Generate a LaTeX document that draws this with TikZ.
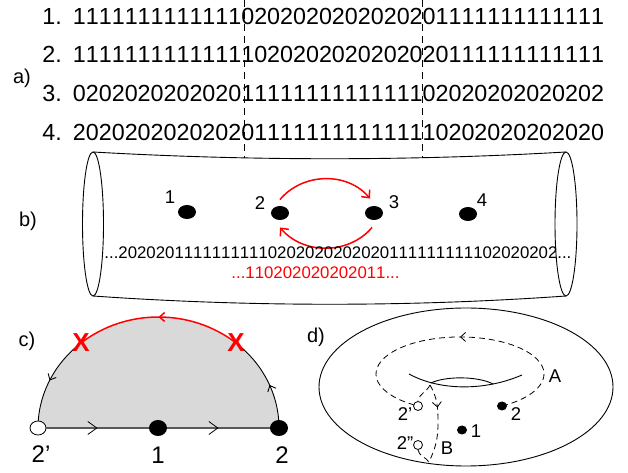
\documentclass[tikz,border=0pt]{standalone}
\usepackage{fontspec}
\setmainfont{Liberation Sans}
\usetikzlibrary{shapes.geometric,arrows.meta,decorations.markings}
\makeatletter
\newcommand\tabseq[1]{\@tfor\tabch:=#1\do{\makebox[0.556em]{\tabch}}}
\makeatother

\begin{document}
\begin{tikzpicture}[x=1pt,y=1pt,line width=0.9pt,>={Straight Barb[length=5pt,width=9pt]},
	seq/.style={anchor=base west,inner sep=0pt,font=\fontsize{23.3}{28}\selectfont},
	chain/.style={anchor=base west,inner sep=0pt,font=\fontsize{16.8}{20}\selectfont},
	tag/.style={inner sep=0pt,font=\fontsize{20}{24}\selectfont},
	num/.style={inner sep=0pt,font=\fontsize{18.5}{22}\selectfont},
	bignum/.style={inner sep=0pt,font=\fontsize{24}{28}\selectfont},
	cross/.style={red,inner sep=0pt,font=\bfseries\fontsize{26}{30}\selectfont},
	bead/.style={ellipse,fill=black,inner sep=0pt},
	ring/.style={ellipse,draw,fill=white,inner sep=0pt,line width=0.8pt},
	cut/.style={dash pattern=on 7pt off 5pt,line width=0.8pt},
	hidden/.style={dash pattern=on 6pt off 4pt,line width=0.8pt},
	flow/.style={postaction={decorate},decoration={markings,mark=at position #1 with {\arrow{>}}}},
	flowbase/.style={postaction={decorate},decoration={markings,mark=at position 0.5 with {\arrow[black,line width=0.8pt]{Straight Barb[length=9pt,width=13pt]}}}},
	hop/.style={red,line width=1.5pt,-{Straight Barb[length=6pt,width=11pt]}}]
				  \useasboundingbox (0,0) rectangle (628,473);
				  \node[tag] (a) at (22,395) {a)};
				  \node[seq] (n1) at (42,448) {1.};
				  \node[seq] (n2) at (42,410) {2.};
				  \node[seq] (n3) at (42,371) {3.};
				  \node[seq] (n4) at (42,332) {4.};
				  \node[seq] (s1) at (72.5,448) {\tabseq{11111111111110202020202020201111111111111}};
				  \node[seq] (s2) at (72.5,410) {\tabseq{11111111111111020202020202020111111111111}};
				  \node[seq] (s3) at (72.5,371) {\tabseq{02020202020201111111111111102020202020202}};
				  \node[seq] (s4) at (72.5,332) {\tabseq{20202020202020111111111111110202020202020}};
				  \coordinate (lt) at (93,321);
				  \coordinate (lb) at (93,177);
				  \coordinate (rt) at (566,321);
				  \coordinate (rb) at (566,177);
				  \draw (93,249) ellipse [x radius=10.5pt, y radius=72pt];
				  \draw (566,249) ellipse [x radius=11pt, y radius=72pt];
				  \draw (lt) .. controls (250,312) and (410,312) .. (rt);
				  \draw (lb) .. controls (250,166) and (410,166) .. (rb);
				  \coordinate (cut1) at (244.5,473);
				  \coordinate (cut1e) at (244.5,315);
				  \coordinate (cut2) at (422,473);
				  \coordinate (cut2e) at (422,315);
				  \draw[cut] (cut1) -- (cut1e);
				  \draw[cut] (cut2) -- (cut2e);
				  \node[tag] (b) at (28,252) {b)};
				  \node[bead, minimum width=18pt, minimum height=14pt] (d1) at (187,261) {};
				  \node[bead, minimum width=18pt, minimum height=14pt] (d2) at (280,260) {};
				  \node[bead, minimum width=18pt, minimum height=14pt] (d3) at (374,260) {};
				  \node[bead, minimum width=18pt, minimum height=14pt] (d4) at (468,259) {};
				  \node[num] (l1) at (170,276) {1};
				  \node[num] (l2) at (260,270) {2};
				  \node[num] (l3) at (394,271) {3};
				  \node[num] (l4) at (482,273) {4};
				  \draw[hop] ([yshift=6pt]d2.north) to[out=50, in=130] ([xshift=-4pt,yshift=7pt]d3.north);
				  \draw[hop] ([xshift=-2pt,yshift=-7pt]d3.south) to[out=-130, in=-50] ([yshift=-7pt]d2.south);
				  \node[chain] (s5) at (104,214) {...\tabseq{20202011111111110202020202020111111111102020202}...};
				  \node[chain, red] (s6) at (231,194) {...\tabseq{110202020202011}...};
				  \node[tag] (c) at (27,132) {c)};
				  \coordinate (cc) at (158.5,45);
				  \fill[black!15] (38,45) arc[start angle=180, end angle=0, x radius=120.5pt, y radius=111pt] -- cycle;
				  \path (cc) ++(0:120.5pt and 111pt) coordinate (er);
				  \path (cc) ++(50:120.5pt and 111pt) coordinate (xr);
				  \path (cc) ++(130:120.5pt and 111pt) coordinate (xl);
				  \draw[flow=0.45] (er) arc[start angle=0, end angle=50, x radius=120.5pt, y radius=111pt];
				  \draw[red, line width=1.5pt, flow=0.5] (xr) arc[start angle=50, end angle=130, x radius=120.5pt, y radius=111pt];
				  \draw[flow=0.5] (xl) arc[start angle=130, end angle=180, x radius=120.5pt, y radius=111pt];
				  \node[cross] (xrm) at (xr) {X};
				  \node[cross] (xlm) at (xl) {X};
				  \node[ring, minimum width=16pt, minimum height=14pt] (h2) at (38,45) {};
				  \node[bead, minimum width=18pt, minimum height=16pt] (c1) at (158,45) {};
				  \node[bead, minimum width=18pt, minimum height=16pt] (c2) at (279,45) {};
				  \draw[black!65, line width=1.4pt, flowbase] (h2) -- (c1);
				  \draw[black!65, line width=1.4pt, flowbase] (c1) -- (c2);
				  \node[bignum] (lh2) at (41,19) {2’};
				  \node[bignum] (lc1) at (158,18) {1};
				  \node[bignum] (lc2) at (282,18) {2};
				  \node[tag] (d) at (316,136) {d)};
				  \draw (466,86) ellipse [x radius=147pt, y radius=79pt];
				  \draw (409,99) .. controls (440,82) and (485,82) .. (522,98);
				  \draw (431,90) .. controls (445,97) and (478,97) .. (493,89);
				  \coordinate (P2) at (502,67);
				  \draw[hidden, flow=0.5] (P2) arc[start angle=-60, end angle=240, x radius=84pt, y radius=37pt];
				  \node[ring, minimum width=9pt, minimum height=9pt] (p1) at (418,67) {};
				  \node[ring, minimum width=9pt, minimum height=9pt] (p2) at (418,28) {};
				  \node[bead, minimum width=10pt, minimum height=9pt] (q1) at (462,43) {};
				  \node[bead, minimum width=10pt, minimum height=9pt] (q2) at (P2) {};
				  \coordinate (bt) at (430,88);
				  \coordinate (bm) at (438,50);
				  \coordinate (bb) at (429,11);
				  \draw[hidden] (bt) to[out=-115, in=80] (p1.north);
				  \draw[hidden] (p2.south) to[out=-80, in=125] (bb);
				  \draw[hidden, flow=0.3] (bt) to[out=-60, in=90] (bm) to[out=-90, in=65] (bb);
				  \node[num] (lA) at (555,97) {A};
				  \node[num] (lB) at (447,25) {B};
				  \node[num] (lp1) at (405,59) {2’};
				  \node[num] (lp2) at (405,30) {2”};
				  \node[num] (lq1) at (476,42) {1};
				  \node[num] (lq2) at (516,59) {2};
				\end{tikzpicture}
\end{document}
